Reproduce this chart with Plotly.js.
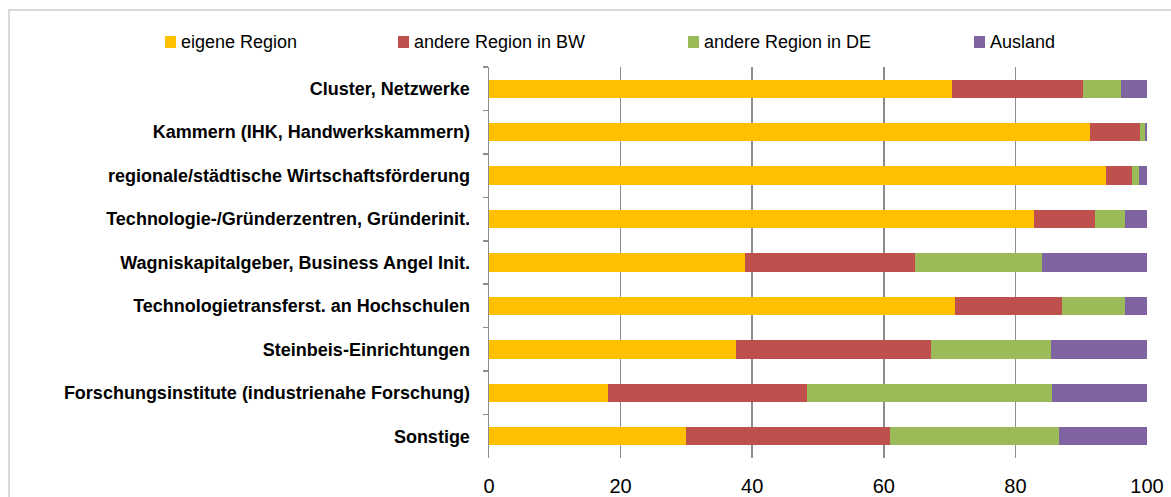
<!DOCTYPE html>
<html>
<head>
<meta charset="utf-8">
<script src="https://cdn.plot.ly/plotly-3.0.1.min.js"></script>
<style>
html,body{margin:0;padding:0;background:#fff;}
#wrap{position:relative;width:1171px;height:497px;overflow:hidden;}
#chart{position:absolute;left:0;top:0;width:1171px;height:497px;}
#frame{position:absolute;left:8px;top:9px;width:1170px;height:500px;border:2px solid #d9d9d9;box-sizing:border-box;pointer-events:none;}
</style>
</head>
<body>
<div id="wrap"><div id="chart"></div><div id="frame"></div></div>
<script>
var categories = [
  "Cluster, Netzwerke",
  "Kammern (IHK, Handwerkskammern)",
  "regionale/städtische Wirtschaftsförderung",
  "Technologie-/Gründerzentren, Gründerinit.",
  "Wagniskapitalgeber, Business Angel Init.",
  "Technologietransferst. an Hochschulen",
  "Steinbeis-Einrichtungen",
  "Forschungsinstitute (industrienahe Forschung)",
  "Sonstige"
];
var seriesNames = ["eigene Region", "andere Region in BW", "andere Region in DE", "Ausland"];
var eigeneRegion   = [70.4, 91.3, 93.8, 82.9, 38.9, 70.8, 37.5, 18.1, 30.0];
var andereRegionBW = [19.8,  7.6,  3.9,  9.2, 25.8, 16.3, 29.7, 30.2, 30.9];
var andereRegionDE = [ 5.9,  0.8,  1.1,  4.6, 19.3,  9.5, 18.2, 37.3, 25.7];
var ausland        = [ 3.9,  0.3,  1.2,  3.3, 16.0,  3.4, 14.6, 14.4, 13.4];
var xTicks = [0, 20, 40, 60, 80, 100];
var colors = ["#FFC000", "#C0504D", "#9BBB59", "#8064A2"];

var seriesValues = [eigeneRegion, andereRegionBW, andereRegionDE, ausland];
var traces = seriesValues.map(function(vals, i){
  return {
    type: "bar", orientation: "h",
    x: vals, y: categories, name: seriesNames[i],
    marker: {color: colors[i], line: {width: 0}},
    showlegend: false, hoverinfo: "x+y+name"
  };
});

// plot area geometry (pixels)
var W = 1171, H = 497;
var L = 489, R = 1147, T = 67, B = 458;
function px2x(p){ return (p - L) / (R - L); }
function py2y(p){ return (B - p) / (B - T); }

// manual legend positions (left edge of marker, pixels)
var legendX = [165, 398, 688, 974];
var legendY = 42;
var FONT = "Liberation Sans, Arial, sans-serif";
var shapes = [], annotations = [];
seriesNames.forEach(function(n, i){
  shapes.push({type: "rect", xref: "paper", yref: "paper",
    x0: px2x(legendX[i]), x1: px2x(legendX[i] + 11),
    y0: py2y(legendY + 6), y1: py2y(legendY - 6),
    fillcolor: colors[i], line: {width: 0}});
  annotations.push({xref: "paper", yref: "paper", x: px2x(legendX[i] + 14), y: py2y(legendY),
    xanchor: "left", yanchor: "middle", showarrow: false, text: n,
    font: {family: FONT, size: 18, color: "#000"}});
});

var layout = {
  width: W, height: H,
  margin: {l: L, r: W - R, t: T, b: H - B, pad: 0},
  paper_bgcolor: "#fff", plot_bgcolor: "#fff",
  barmode: "stack", bargap: 0.58,
  showlegend: false,
  xaxis: {
    range: [0, 100], tickvals: xTicks, ticktext: xTicks.map(String),
    showgrid: true, gridcolor: "#8c8c8c", gridwidth: 1.5,
    zeroline: false, showline: false, ticks: "",
    ticklabelstandoff: 14,
    tickfont: {family: FONT, size: 20, color: "#000"},
    fixedrange: true
  },
  yaxis: {
    type: "category", autorange: "reversed",
    showline: true, linecolor: "#8c8c8c", linewidth: 1.5,
    ticks: "outside", tickson: "boundaries", ticklen: 5, tickcolor: "#8c8c8c", tickwidth: 1.5,
    showgrid: false, zeroline: false,
    ticklabelstandoff: 14,
    tickfont: {family: FONT, size: 18, color: "#000", weight: "bold"},
    fixedrange: true
  },
  shapes: shapes,
  annotations: annotations
};

Plotly.newPlot("chart", traces, layout, {displayModeBar: false, staticPlot: true});
</script>
</body>
</html>
